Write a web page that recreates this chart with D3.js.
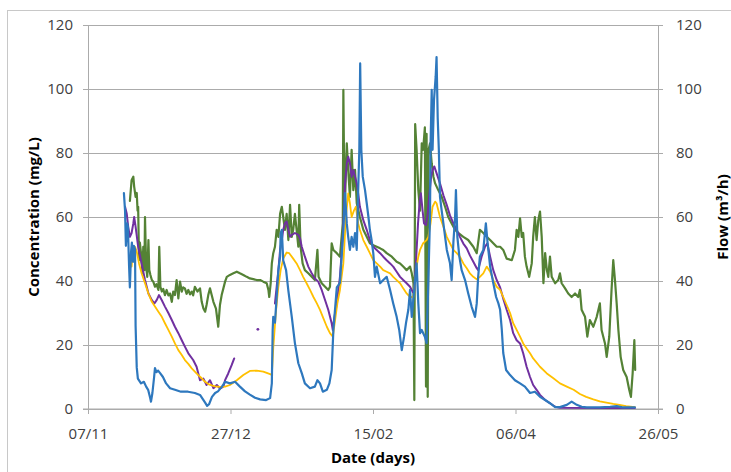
<!DOCTYPE html>
<html>
<head>
<meta charset="utf-8">
<script src="https://cdn.jsdelivr.net/npm/d3@7"></script>
<style>
  html, body { margin: 0; padding: 0; background: #fff; }
  svg { display: block; font-family: "Open Sans", "Noto Sans", sans-serif; }
</style>
</head>
<body>
<svg id="chart" width="731" height="472"></svg>
<script>
// ---- data (x = days since 07/11, y = value) ----
const dayTicks = [0, 50, 100, 150, 200];
const dateLabels = ["07/11", "27/12", "15/02", "06/04", "26/05"];
const yTicks = [0, 20, 40, 60, 80, 100, 120];

const flowBlue = [
[12.6,67.5],[13.0,62],[13.3,51],[13.7,58],[14.0,57],[14.4,45],[14.7,38],[15.1,49],[15.4,52],[15.8,46],[16.1,51],[16.5,50],[16.7,26],[17.1,13],[17.5,9.5],[18.6,8],[19.6,8.5],[20.4,7],[21.1,6],[21.8,3.5],[22.1,2.3],[22.6,5],[23.2,10],[23.5,12.8],[24.0,11.5],[24.6,12],[25.3,11.2],[26.3,10],[27.4,8],[28.8,6.5],[30.5,6],[32.6,5.4],[35.1,5.4],[37.5,5],[39.3,4.4],[41.1,2],[41.8,1],[42.5,1.5],[43.5,3.8],[44.6,5],[45.6,5.5],[47.0,7],[48.1,8.5],[49.8,8],[51.6,8.5],[53.3,7],[55.1,5.5],[56.8,4.5],[58.6,3.5],[60.4,3],[62.5,2.8],[63.9,3.4],[64.5,8],[64.8,24.7],[65.0,28.8],[65.6,27],[66.2,35],[66.8,43.4],[67.4,47.6],[67.6,55],[68.0,56],[68.5,46.5],[69.5,43.4],[70.3,37],[71.5,28.8],[72.6,20.6],[73.8,14.3],[75.0,11.2],[76.1,8],[77.9,6.5],[79.6,7],[80.5,9],[81.4,8],[82.4,5.4],[83.8,6],[84.7,8],[85.5,12.2],[85.9,20.5],[86.1,24.7],[87.3,38],[88.4,39.4],[89.0,47.6],[89.6,56],[90.2,67.5],[90.8,58],[91.3,53.8],[91.9,49.7],[92.5,53.8],[93.1,50.7],[93.7,55],[94.3,49.7],[94.8,68.4],[95.2,81],[95.5,108],[95.9,81],[96.4,72.6],[97.2,68.4],[97.8,64.3],[98.4,60],[98.9,56],[99.5,52.8],[100.1,48.7],[100.7,41.3],[101.3,44.5],[102.5,39.3],[103.6,40.3],[104.8,41.3],[106.0,37.2],[107.1,33],[108.3,28.8],[109.2,24.7],[110.1,18.4],[110.9,22.6],[111.6,27],[112.4,31],[113.0,37.2],[113.6,28.8],[114.7,39.4],[115.3,45.5],[115.9,33],[116.5,23.7],[117.1,24.7],[118.2,22.6],[118.8,20.6],[119.4,39.4],[120.0,60],[120.2,83],[120.6,99.7],[120.9,81],[121.4,96.5],[122.0,104],[122.3,110],[122.7,91],[123.1,81],[123.5,66.3],[124.1,62],[124.7,58],[125.3,53.8],[125.9,49.7],[127.0,45.6],[127.6,40.3],[128.2,52],[128.8,60],[129.1,68.4],[129.6,53.8],[130.3,47.6],[131.1,43.4],[132.3,40.3],[133.4,36.2],[134.6,32],[135.8,28.8],[136.4,33],[136.9,41.3],[137.5,47.6],[138.7,49.7],[139.6,58],[140.2,52],[141.1,44.5],[142.2,39.4],[143.2,35],[144.0,33],[144.6,31],[145.2,24.7],[145.7,17.5],[146.7,12.2],[148.1,10.6],[149.8,9],[151.6,8],[153.3,7],[155.1,5],[156.8,5.4],[158.6,3.8],[160.4,2.8],[162.1,1.8],[163.9,0.6],[165.6,0.6],[168.0,1.3],[169.7,2.3],[171.5,1.3],[173.2,0.7],[175.0,0.5],[179.6,0.5],[183.2,0.7],[185.5,0.9],[187.5,0.5],[191.9,0.5]
];

const concGreen = [
[14.7,65],[15.3,71.5],[15.9,72.6],[16.2,69.5],[16.7,66.3],[17.1,67.5],[17.4,62],[17.6,63.2],[17.9,46.5],[18.2,52],[18.6,48.7],[19.1,42.5],[19.4,50.7],[19.8,43.4],[20.0,60],[20.4,44.5],[20.8,41.3],[21.2,52.8],[21.5,43.4],[21.9,41.9],[22.4,40.3],[22.9,39.8],[23.5,38.2],[24.0,39],[24.7,37.2],[25.0,50.7],[25.4,38.2],[25.9,36.7],[26.4,37.5],[27.0,35.6],[27.6,37.2],[28.2,35.5],[28.8,36.1],[29.4,33.5],[29.9,36.7],[30.5,35.6],[31.1,40.3],[31.7,34.6],[32.3,39.8],[32.9,36.7],[33.4,38],[34.0,37.7],[34.6,36],[35.2,37.2],[35.8,35.8],[36.4,36.7],[36.9,35.5],[37.5,38.2],[38.4,36.7],[39.3,37.7],[39.9,33.5],[40.5,31.4],[41.1,30.4],[41.6,32.5],[42.2,35.6],[42.8,37.7],[43.4,35.6],[44.0,33.5],[44.9,31.4],[45.7,25.7],[46.3,32.5],[46.9,35.6],[47.5,37.7],[48.1,39.8],[48.7,41.3],[49.8,41.9],[51.0,42.4],[52.2,42.9],[53.3,42.4],[54.5,41.9],[55.7,41.3],[56.8,40.8],[58.0,40.6],[59.2,40.3],[60.4,40.3],[61.5,39.8],[62.7,39.3],[63.3,37.2],[63.6,35],[64.1,39.3],[64.5,45.5],[65.0,48.7],[65.6,50.7],[66.2,56],[66.8,53.8],[67.4,61],[68.0,63.2],[68.5,60],[69.1,56],[69.7,61],[70.3,52.8],[70.9,63.8],[71.5,53.8],[72.0,56],[72.6,61],[73.2,56],[73.8,50.7],[74.1,63.8],[74.6,50.7],[75.3,45.5],[76.1,43.4],[77.3,42.4],[78.5,41.3],[79.6,40.3],[80.5,49.7],[80.9,41.3],[82.0,39.3],[83.2,38.2],[84.3,37.2],[84.9,38.2],[85.5,51.8],[86.1,49.7],[87.3,48.7],[88.4,47.6],[89.4,58],[89.6,99.7],[89.8,81],[90.2,65.3],[90.8,83],[91.3,74.7],[91.9,66.3],[92.5,81],[93.1,68.4],[93.7,74.7],[94.3,64.3],[95.4,60],[96.6,56],[97.8,53.8],[98.9,51.8],[100.1,51.2],[101.3,50.7],[102.5,50.2],[103.6,49.7],[104.8,48.7],[106.6,47.6],[108.3,46],[109.5,45.5],[110.6,44.5],[111.8,43.4],[113.0,44.5],[113.6,42.4],[114.2,39.3],[114.5,2.8],[114.8,89],[115.3,81],[115.9,68.4],[116.5,62],[117.1,83],[117.6,81],[118.2,88],[118.6,7],[118.8,86],[119.2,3.8],[119.5,81],[120.0,83],[120.6,76.8],[121.2,72.6],[121.8,70.5],[122.9,68.4],[124.1,66.3],[125.3,63.2],[126.4,60],[127.6,58],[128.8,56],[129.9,55],[131.7,53.8],[133.4,52.8],[135.2,50.7],[136.4,48.7],[137.5,56],[138.7,55],[139.9,53.8],[141.1,52.8],[142.2,51.8],[143.4,50.7],[144.6,50.7],[145.7,49.7],[146.9,47],[148.7,46.5],[149.8,49.7],[150.4,56],[151.0,53.8],[151.6,59.6],[152.2,53.8],[152.7,55],[153.3,47.6],[153.9,44.5],[154.8,41.3],[155.7,45.5],[156.2,53.8],[156.8,60],[157.4,52.8],[158.0,59],[158.6,61.7],[159.2,53.8],[159.8,39.3],[160.4,48.7],[161.0,43.4],[161.5,41.3],[162.1,47.6],[162.7,41.3],[163.9,39.3],[165.0,40.3],[165.6,42.4],[166.2,39.3],[167.4,37.7],[168.5,36.1],[169.7,35],[170.9,36.1],[172.0,35],[172.6,37.2],[173.2,31],[174.4,28.8],[175.2,22.6],[176.1,27.8],[177.3,25.7],[178.5,28.8],[179.6,33],[180.2,24.7],[181.4,20.5],[182.0,16.3],[182.9,22.6],[183.7,37.2],[184.3,46.5],[184.9,40.3],[185.5,33],[186.1,24.7],[186.9,16.3],[187.8,12.2],[189.0,10],[189.9,6],[190.5,3.8],[191.1,11.1],[191.7,21.5],[192.0,12.2]
];

const concPurpleA = [
[13.0,63.2],[13.6,61],[14.1,57],[14.7,53.8],[15.3,55],[15.9,58],[16.2,60],[16.7,57],[17.6,50.7],[18.8,45.5],[20.0,40.3],[21.2,36.1],[22.4,34],[23.3,33],[24.1,34],[24.9,35.6],[25.9,34],[27.0,32],[28.2,30],[29.4,27.8],[30.5,25.7],[31.7,23.7],[32.9,21.5],[34.0,19.5],[35.2,17.4],[36.9,15.3],[38.1,13.2],[38.7,11.1],[39.3,9],[40.5,9.5],[41.6,7.5],[42.8,9],[44.0,6.5],[45.2,7.5],[46.3,6.4],[47.5,7],[48.1,9],[49.2,11.1],[50.4,13.7],[51.3,15.8]
];
const concPurpleDot = [[59.6,24.9]];
const concPurpleB = [
[65.6,33],[66.2,38.2],[66.8,43.4],[67.4,49.7],[68.0,52.8],[68.5,56],[69.1,58],[69.7,58.6],[70.3,56],[70.9,53.8],[71.5,54.4],[72.6,55],[73.8,54.4],[74.4,53.3],[75.0,50.7],[76.1,47.6],[77.3,44.5],[78.5,42.4],[79.6,40.8],[80.8,39.8],[82.0,37.2],[83.2,34],[84.3,31],[85.5,26.8],[85.9,24.7],[86.3,27.8],[87.3,33],[88.4,41.3],[89.4,53.8],[90.2,70.5],[90.8,76.8],[91.3,78.8],[91.9,76.8],[92.5,72.6],[93.1,74.7],[93.7,72.6],[94.3,70.5],[94.8,67.4],[95.4,63.2],[96.6,59],[97.8,56],[98.9,52.8],[100.1,50.7],[101.3,49.7],[102.5,48.7],[103.6,47.6],[104.8,46.5],[106.0,45.5],[107.1,44.5],[108.3,42.9],[109.5,41.3],[110.6,40.3],[111.8,39.3],[113.0,38.2],[114.0,36.5],[114.5,37.2],[115.2,48],[115.8,58],[116.4,65],[116.8,67.4],[117.4,62],[117.9,58],[118.6,57.5],[119.2,61],[119.8,67.4],[120.4,72.6],[120.9,74.7],[121.5,75.8],[122.3,73.7],[123.5,70.5],[124.7,66.8],[125.9,63.7],[127.0,60.5],[128.2,58],[129.4,56],[130.5,53.8],[131.7,51.7],[132.9,50.2],[134.0,48],[135.2,46],[136.4,44],[136.9,43.4],[138.1,47.6],[139.3,50.7],[140.1,51.8],[141.1,47.6],[142.2,43.4],[143.4,40.3],[144.6,38],[145.7,34.5],[146.9,31],[148.1,27.8],[149.2,23.7],[150.4,21.5],[151.6,20.5],[152.7,17.4],[153.9,13.2],[155.1,10],[156.2,7.5],[157.4,6],[158.6,4.4],[160.4,2.8],[162.1,1.8],[163.9,0.7],[165.6,0.4],[179.6,0.3],[191.9,0.3]
];

const concYellow = [
[15.3,44.5],[15.5,46.5],[15.9,48.7],[16.5,50.7],[17.1,49.2],[17.9,45.5],[18.8,42.4],[20.0,39.3],[21.2,36.1],[22.4,33.5],[23.5,32],[24.7,30.4],[25.9,28.8],[27.0,26.8],[28.2,24.7],[29.4,22.6],[30.5,20.5],[31.7,18.4],[32.9,16.9],[34.0,15.3],[35.2,14.1],[36.4,12.7],[37.5,11.7],[38.7,10.6],[39.9,9.6],[41.1,8.5],[42.2,7.8],[43.4,7.4],[44.6,7.1],[46.3,6.9],[48.1,7],[49.8,7.5],[52.2,9],[54.5,10.6],[56.8,11.9],[59.2,12],[61.5,11.7],[63.9,10.9],[64.5,10.6],[65.0,19],[66.0,31],[66.8,38.2],[67.6,43.4],[68.5,47],[69.7,48.9],[70.6,48.7],[72.0,47],[73.2,45.5],[74.4,43.4],[75.5,41.3],[76.7,39.3],[77.9,37.2],[79.1,35],[80.3,33],[81.4,31],[82.6,28.3],[83.8,25.7],[84.9,23.7],[85.9,22.6],[86.7,27.8],[87.5,33],[88.4,37.2],[89.6,45.5],[90.5,60],[91.3,67.4],[91.9,64.3],[92.5,60],[93.3,62],[94.0,63.2],[94.8,58],[95.4,56],[96.6,52.8],[97.8,50.7],[98.9,48.7],[100.1,46.5],[101.3,45.5],[102.5,44.5],[103.6,43.4],[104.8,42.9],[106.0,42.4],[107.1,41.3],[108.3,40.3],[109.5,39.3],[110.6,37.7],[111.8,36.1],[113.0,35],[114.2,35],[114.7,39.3],[115.3,44.5],[115.9,47.6],[116.5,49.7],[117.6,51.8],[118.8,52.8],[119.4,53.8],[120.2,58],[120.9,63.2],[121.8,64.8],[122.3,64.3],[123.5,60],[124.7,57],[125.9,53.8],[127.0,51.8],[128.2,49.7],[129.4,48.7],[130.5,47.6],[131.7,45.5],[132.9,44],[134.0,42.4],[135.2,41.3],[136.4,40.5],[137.5,41.3],[138.7,42.4],[139.9,44.5],[141.1,42.9],[142.2,40.3],[143.4,38.2],[144.6,37.2],[145.7,35],[146.9,32.5],[148.1,30],[149.2,26.8],[150.4,24.7],[151.6,22.6],[152.7,20.5],[153.9,18.9],[155.1,17.4],[156.2,15.8],[158.6,13.2],[161.0,11.1],[163.3,9.6],[165.6,8],[168.0,7],[170.4,6],[172.6,4.7],[174.8,3.8],[177.3,3],[179.6,2.4],[181.9,2],[184.3,1.6],[186.5,1.3],[188.8,0.9],[191.9,0.6]
];

// ---- drawing ----
const svg = d3.select("#chart");
const m = { left: 88, right: 658, top: 25, bottom: 409 };

const x = d3.scaleLinear().domain([0, 200]).range([m.left, m.right]);
const y = d3.scaleLinear().domain([0, 120]).range([m.bottom, m.top]);

const gray = "#ababab";
const textCol = "#404040";

// outer chart border
svg.append("rect")
  .attr("x", 7.5).attr("y", 10.5)
  .attr("width", 800).attr("height", 600)
  .attr("fill", "#fff").attr("stroke", "#c8c8c8").attr("stroke-width", 1);

// gridlines
const grid = svg.append("g").attr("transform", `translate(${m.left},0)`)
  .call(d3.axisLeft(y).tickValues(yTicks.filter(v => v > 0)).tickSize(-(m.right - m.left)).tickFormat(""));
grid.select(".domain").remove();
grid.selectAll("line").attr("stroke", gray).attr("stroke-width", 1);

// axes
const yl = svg.append("g").attr("transform", `translate(${m.left},0)`)
  .call(d3.axisLeft(y).tickValues(yTicks).tickSize(5).tickSizeOuter(0).tickPadding(10));
const yr = svg.append("g").attr("transform", `translate(${m.right},0)`)
  .call(d3.axisRight(y).tickValues(yTicks).tickSize(5).tickSizeOuter(0).tickPadding(13));
const xa = svg.append("g").attr("transform", `translate(0,${m.bottom})`)
  .call(d3.axisBottom(x).tickValues(dayTicks).tickFormat((d, i) => dateLabels[i]).tickSize(5).tickSizeOuter(0).tickPadding(14));

[yl, yr, xa].forEach(g => {
  g.select(".domain").attr("stroke", gray).attr("stroke-width", 1);
  g.selectAll(".tick line").attr("stroke", gray).attr("stroke-width", 1);
  g.selectAll("text").attr("fill", textCol).style("font-size", "15px")
    .style("font-family", '"Open Sans", "Noto Sans", sans-serif');
});
svg.append("line")
  .attr("x1", m.left - 5).attr("x2", m.right + 5)
  .attr("y1", y(0)).attr("y2", y(0))
  .attr("stroke", gray).attr("stroke-width", 1);

// series
const plot = svg.append("g");
const line = d3.line().x(d => x(d[0])).y(d => y(d[1]));
function draw(data, color, w) {
  plot.append("path").datum(data)
    .attr("d", line)
    .attr("fill", "none")
    .attr("stroke", color)
    .attr("stroke-width", w)
    .attr("stroke-linejoin", "round")
    .attr("stroke-linecap", "round");
}
const cGreen = "#548235", cPurple = "#7030A0", cYellow = "#FFC000", cBlue = "#2E78BE";
draw(concGreen, cGreen, 2.2);
draw(concPurpleA, cPurple, 2);
draw(concPurpleB, cPurple, 2);
plot.selectAll("circle.pdot").data(concPurpleDot).enter().append("circle")
  .attr("class", "pdot")
  .attr("cx", d => x(d[0])).attr("cy", d => y(d[1])).attr("r", 1.4)
  .attr("fill", cPurple);
draw(concYellow, cYellow, 1.8);
draw(flowBlue, cBlue, 2.2);

// axis titles
svg.append("text")
  .attr("transform", `translate(33,${(m.top + m.bottom) / 2}) rotate(-90)`)
  .attr("text-anchor", "middle").attr("dominant-baseline", "central")
  .style("font-size", "15px").style("font-weight", "bold").attr("fill", "#000")
  .text("Concentration (mg/L)");
svg.append("text")
  .attr("transform", `translate(722,${(m.top + m.bottom) / 2}) rotate(-90)`)
  .attr("text-anchor", "middle").attr("dominant-baseline", "central")
  .style("font-size", "15px").style("font-weight", "bold").attr("fill", "#000")
  .text("Flow (m³/h)");
svg.append("text")
  .attr("x", (m.left + m.right) / 2).attr("y", 457)
  .attr("text-anchor", "middle").attr("dominant-baseline", "central")
  .style("font-size", "15px").style("font-weight", "bold").attr("fill", "#000")
  .text("Date (days)");
</script>
</body>
</html>
